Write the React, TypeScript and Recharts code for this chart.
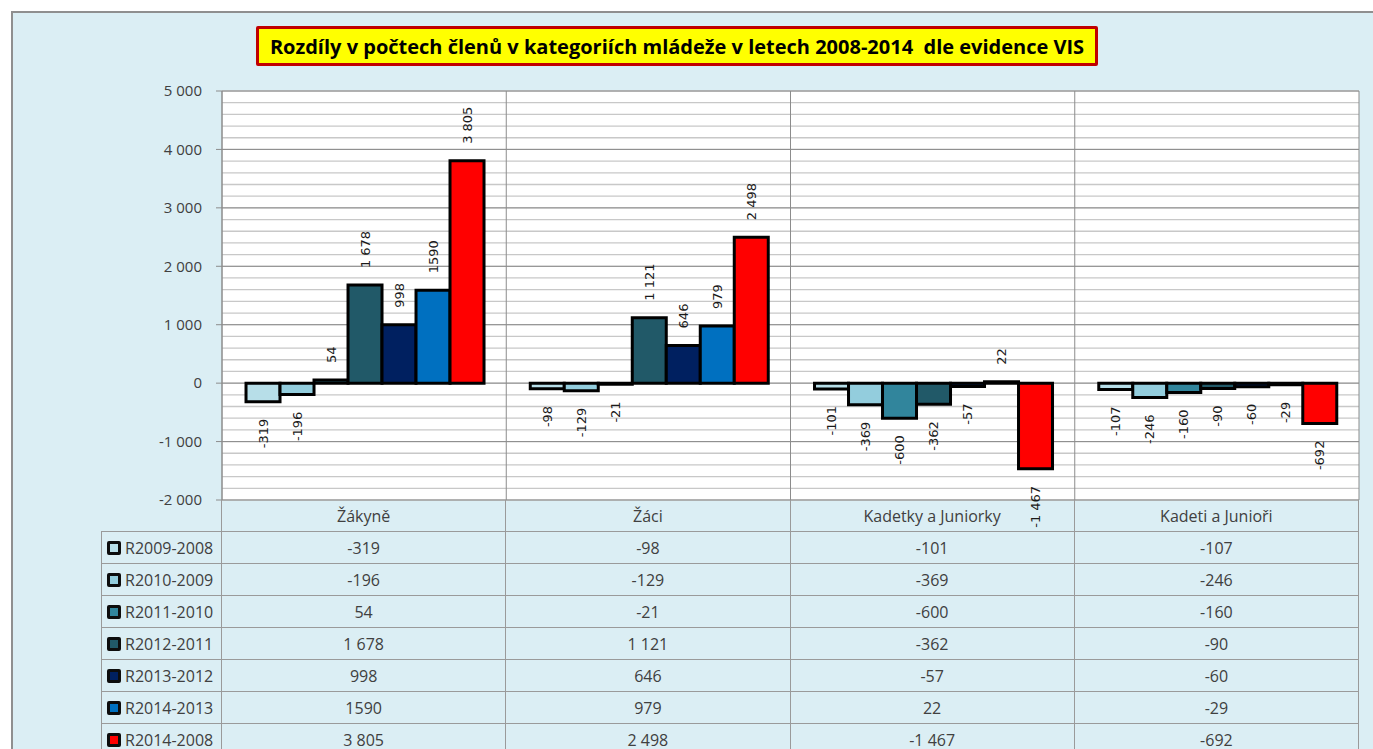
import { Bar, BarChart, CartesianGrid, LabelList, XAxis, YAxis } from "recharts";

const categories = ["Žákyně", "Žáci", "Kadetky a Juniorky", "Kadeti a Junioři"];
const seriesNames = [
  "R2009-2008",
  "R2010-2009",
  "R2011-2010",
  "R2012-2011",
  "R2013-2012",
  "R2014-2013",
  "R2014-2008",
];
const seriesColors = ["#B7DEE8", "#93CDDD", "#31859C", "#215968", "#002060", "#0070C0", "#FF0000"];

const r2009_2008 = [-319, -98, -101, -107];
const r2010_2009 = [-196, -129, -369, -246];
const r2011_2010 = [54, -21, -600, -160];
const r2012_2011 = [1678, 1121, -362, -90];
const r2013_2012 = [998, 646, -57, -60];
const r2014_2013 = [1590, 979, 22, -29];
const r2014_2008 = [3805, 2498, -1467, -692];
const seriesValues = [r2009_2008, r2010_2009, r2011_2010, r2012_2011, r2013_2012, r2014_2013, r2014_2008];

const yTicks = [-2000, -1000, 0, 1000, 2000, 3000, 4000, 5000];
const minorStep = 200;
// this cell was typed as text in the sheet, so it has no thousands space
const ungrouped = [1590];

const TITLE = "Rozdíly v počtech členů v kategoriích mládeže v letech 2008-2014  dle evidence VIS";

const W = 1373;
const H = 749;
const margin = { top: 91, right: 14, bottom: 249, left: 0 };
const yAxisW = 222;
const tableLeft = 101;
const rowH = 32;
const colW = (W - margin.right - yAxisW) / categories.length;
const line = "1px solid #9a9a9a";
const uiFont = "'Open Sans', sans-serif";

const fmt = (v: number) => {
  if (ungrouped.includes(v)) return String(v);
  const s = String(Math.abs(v)).replace(/\B(?=(\d{3})+(?!\d))/g, " ");
  return v < 0 ? "-" + s : s;
};

const data = categories.map((name, i) => {
  const row: Record<string, string | number> = { name };
  seriesNames.forEach((s, j) => {
    row[s] = seriesValues[j][i];
  });
  return row;
});

const minorLines = ({ yAxis, offset }: any) => {
  const lo = yTicks[0];
  const hi = yTicks[yTicks.length - 1];
  const out: number[] = [];
  for (let v = lo; v <= hi; v += minorStep) {
    out.push(
      typeof yAxis?.scale === "function"
        ? yAxis.scale(v)
        : offset.top + (offset.height * (hi - v)) / (hi - lo)
    );
  }
  return out;
};

const bandEdges = ({ xAxis, offset }: any) => {
  const n = categories.length;
  return Array.from({ length: n + 1 }, (_, i) => {
    if (i < n && typeof xAxis?.scale === "function") {
      const s = xAxis.scale(categories[i]);
      if (Number.isFinite(s)) return s;
    }
    return offset.left + (offset.width * i) / n;
  });
};

const BarValueLabel = (props: any) => {
  const vb = props.viewBox ?? props;
  const { x, y, width, height } = vb;
  const v = Number(props.value);
  if (!Number.isFinite(x) || !Number.isFinite(y)) return null;
  const cx = x + width / 2;
  const top = Math.min(y, y + height);
  const bottom = Math.max(y, y + height);
  const ay = v >= 0 ? top - 17 : bottom + 17;
  return (
    <text
      x={cx}
      y={ay}
      transform={`rotate(-90 ${cx} ${ay})`}
      textAnchor={v >= 0 ? "start" : "end"}
      dominantBaseline="central"
      fontFamily="'DejaVu Sans', sans-serif"
      fontSize={13}
      fill="#1a1a1a"
    >
      {fmt(v)}
    </text>
  );
};

const cellBase = {
  boxSizing: "border-box" as const,
  display: "flex",
  alignItems: "center",
  justifyContent: "center",
  borderRight: line,
  borderBottom: line,
};

const DataTable = () => (
  <div
    style={{
      position: "absolute",
      left: tableLeft,
      top: H - margin.bottom,
      display: "grid",
      gridTemplateColumns: `${yAxisW - tableLeft}px repeat(${categories.length}, ${colW}px)`,
      gridAutoRows: `${rowH}px`,
      fontFamily: uiFont,
      fontSize: 16,
      color: "#404040",
    }}
  >
    <div style={{ ...cellBase }} />
    {categories.map((c) => (
      <div key={c} style={cellBase}>
        {c}
      </div>
    ))}
    {seriesNames.map((s, j) => [
      <div key={s} style={{ ...cellBase, borderLeft: line, justifyContent: "flex-start", paddingLeft: 5 }}>
        <span
          style={{
            display: "inline-block",
            width: 8,
            height: 8,
            border: "3px solid #0d0d0d",
            borderRadius: 2,
            background: seriesColors[j],
            marginRight: 4,
          }}
        />
        {s}
      </div>,
      ...categories.map((c, i) => (
        <div key={s + c} style={cellBase}>
          {fmt(seriesValues[j][i])}
        </div>
      )),
    ])}
  </div>
);

export default function App() {
  return (
    <div
      style={{
        position: "absolute",
        left: 0,
        top: 0,
        width: W,
        height: H,
        overflow: "hidden",
        background: "#fff",
      }}
    >
      <div
        style={{
          position: "absolute",
          left: 11,
          top: 11,
          width: W + 40,
          height: H + 40,
          border: "2px solid #8f8f8f",
          background: "#DBEEF4",
        }}
      />
      <div style={{ position: "absolute", left: 0, top: 0 }}>
        <BarChart
          width={W}
          height={H}
          data={data}
          margin={margin}
          barCategoryGap="8.45%"
          barGap={0}
        >
          <CartesianGrid
            vertical={false}
            stroke="#c8c8c8"
            strokeWidth={1.3}
            fill="#ffffff"
            horizontalCoordinatesGenerator={minorLines}
          />
          <CartesianGrid stroke="#8c8c8c" verticalCoordinatesGenerator={bandEdges} />
          <XAxis dataKey="name" hide />
          <YAxis
            width={yAxisW}
            domain={[yTicks[0], yTicks[yTicks.length - 1]]}
            ticks={yTicks}
            interval={0}
            allowDataOverflow
            tickFormatter={fmt}
            tickSize={6}
            tickMargin={14}
            stroke="#8c8c8c"
            tick={{ fontSize: 15, fill: "#404040", fontFamily: uiFont }}
          />
          {seriesNames.map((s, j) => (
            <Bar
              key={s}
              dataKey={s}
              fill={seriesColors[j]}
              stroke="#000"
              strokeWidth={3}
              isAnimationActive={false}
            >
              <LabelList dataKey={s} content={BarValueLabel} />
            </Bar>
          ))}
        </BarChart>
      </div>
      <div
        style={{
          position: "absolute",
          left: 256,
          top: 26,
          width: 842,
          height: 40,
          boxSizing: "border-box",
          border: "3px solid #C00000",
          borderRadius: 2,
          background: "#FFFF00",
          display: "flex",
          alignItems: "center",
          justifyContent: "center",
          fontFamily: uiFont,
          fontWeight: 700,
          fontSize: 20,
          color: "#000",
          whiteSpace: "pre",
        }}
      >
        {TITLE}
      </div>
      <DataTable />
    </div>
  );
}
